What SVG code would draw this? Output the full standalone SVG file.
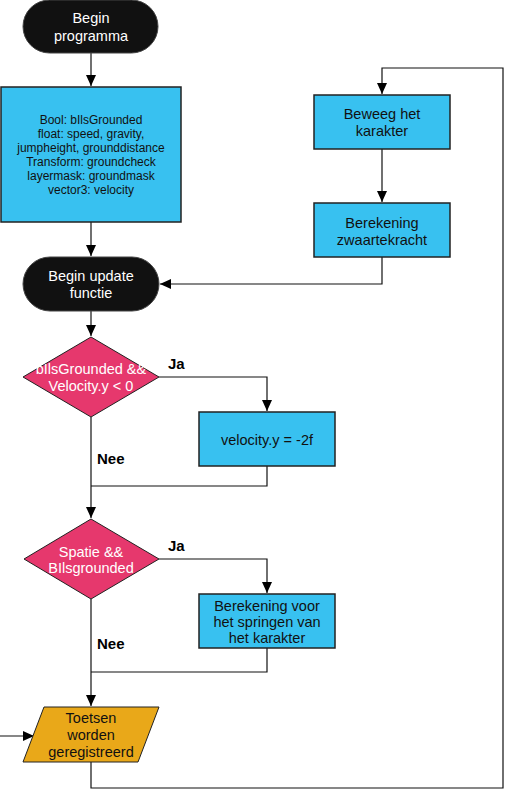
<svg xmlns="http://www.w3.org/2000/svg" width="506" height="790" viewBox="0 0 506 790">
<defs>
<marker id="ah" markerWidth="12" markerHeight="12" refX="11" refY="6" orient="auto" markerUnits="userSpaceOnUse">
<path d="M0,1 L11,6 L0,11 Z" fill="#000"/>
</marker>
<style>
text{font-family:"Liberation Sans",Arial,sans-serif;text-anchor:middle;dominant-baseline:central}
.term{fill:#111;stroke:#444;stroke-width:1}
.term-t{fill:#fff;font-size:14.5px}
.proc{fill:#38C1F0;stroke:#222;stroke-width:1.5}
.proc-t{fill:#111;font-size:14.5px}
.small{font-size:12px}
.dec{fill:#E6386D;stroke:#222;stroke-width:1}
.dec-t{fill:#fff;font-size:14.5px}
.io{fill:#E9A819;stroke:#222;stroke-width:1}
.lbl{font-weight:bold;font-size:15px;fill:#000;text-anchor:start}
.c{fill:none;stroke:#111;stroke-width:1.2}
</style>
</defs>
<rect width="506" height="790" fill="#fff"/>
<g id="connectors">
<path class="c" d="M91,53 V86" marker-end="url(#ah)"/>
<path class="c" d="M91,222 V256" marker-end="url(#ah)"/>
<path class="c" d="M382,149 V202" marker-end="url(#ah)"/>
<path class="c" d="M382,257 V284 H160" marker-end="url(#ah)"/>
<path class="c" d="M91,311 V336" marker-end="url(#ah)"/>
<path class="c" d="M159,377 H267 V411" marker-end="url(#ah)"/>
<path class="c" d="M267,466 V486 H91"/>
<path class="c" d="M91,417 V518" marker-end="url(#ah)"/>
<path class="c" d="M159,559 H267 V593" marker-end="url(#ah)"/>
<path class="c" d="M267,648 V672 H91"/>
<path class="c" d="M91,599 V706" marker-end="url(#ah)"/>
<path class="c" d="M0,736 H34" marker-end="url(#ah)"/>
<path class="c" d="M91,762 V788 H503 V68 H382 V94" marker-end="url(#ah)"/>
<text class="lbl" x="168" y="363">Ja</text>
<text class="lbl" x="97" y="458">Nee</text>
<text class="lbl" x="168" y="545">Ja</text>
<text class="lbl" x="97" y="643">Nee</text>
</g>
<g id="begin-programma">
<rect class="term" x="23" y="0" width="135" height="53" rx="26.5"/>
<text class="term-t" x="91" y="18">Begin</text>
<text class="term-t" x="91" y="36">programma</text>
</g>
<g id="variabelen">
<rect class="proc" x="1" y="87" width="180" height="135"/>
<text class="proc-t small" x="91" y="120">Bool: bIlsGrounded</text>
<text class="proc-t small" x="91" y="134">float: speed, gravity,</text>
<text class="proc-t small" x="91" y="148">jumpheight, grounddistance</text>
<text class="proc-t small" x="91" y="162">Transform: groundcheck</text>
<text class="proc-t small" x="91" y="176">layermask: groundmask</text>
<text class="proc-t small" x="91" y="190">vector3: velocity</text>
</g>
<g id="beweeg">
<rect class="proc" x="314" y="95" width="136" height="54"/>
<text class="proc-t" x="382" y="114">Beweeg het</text>
<text class="proc-t" x="382" y="131">karakter</text>
</g>
<g id="zwaartekracht">
<rect class="proc" x="314" y="203" width="136" height="54"/>
<text class="proc-t" x="382" y="223">Berekening</text>
<text class="proc-t" x="382" y="240">zwaartekracht</text>
</g>
<g id="begin-update">
<rect class="term" x="23" y="257" width="136" height="54" rx="27"/>
<text class="term-t" x="91" y="276">Begin update</text>
<text class="term-t" x="91" y="293">functie</text>
</g>
<g id="beslissing1">
<polygon class="dec" points="91,337 159,377 91,417 23,377"/>
<text class="dec-t" x="91" y="369">bIlsGrounded &amp;&amp;</text>
<text class="dec-t" x="91" y="386">Velocity.y &lt; 0</text>
</g>
<g id="velocity">
<rect class="proc" x="199" y="412" width="136" height="54"/>
<text class="proc-t" x="267" y="440">velocity.y = -2f</text>
</g>
<g id="beslissing2">
<polygon class="dec" points="91,519 159,559 91,599 24,559"/>
<text class="dec-t" x="91" y="552">Spatie &amp;&amp;</text>
<text class="dec-t" x="91" y="568">BIlsgrounded</text>
</g>
<g id="springen">
<rect class="proc" x="199" y="594" width="136" height="54"/>
<text class="proc-t" x="267" y="606">Berekening voor</text>
<text class="proc-t" x="267" y="622">het springen van</text>
<text class="proc-t" x="267" y="638">het karakter</text>
</g>
<g id="toetsen">
<polygon class="io" points="44,707 159,707 138,762 23,762"/>
<text class="proc-t" x="91" y="718">Toetsen</text>
<text class="proc-t" x="91" y="735">worden</text>
<text class="proc-t" x="91" y="752">geregistreerd</text>
</g>
</svg>
